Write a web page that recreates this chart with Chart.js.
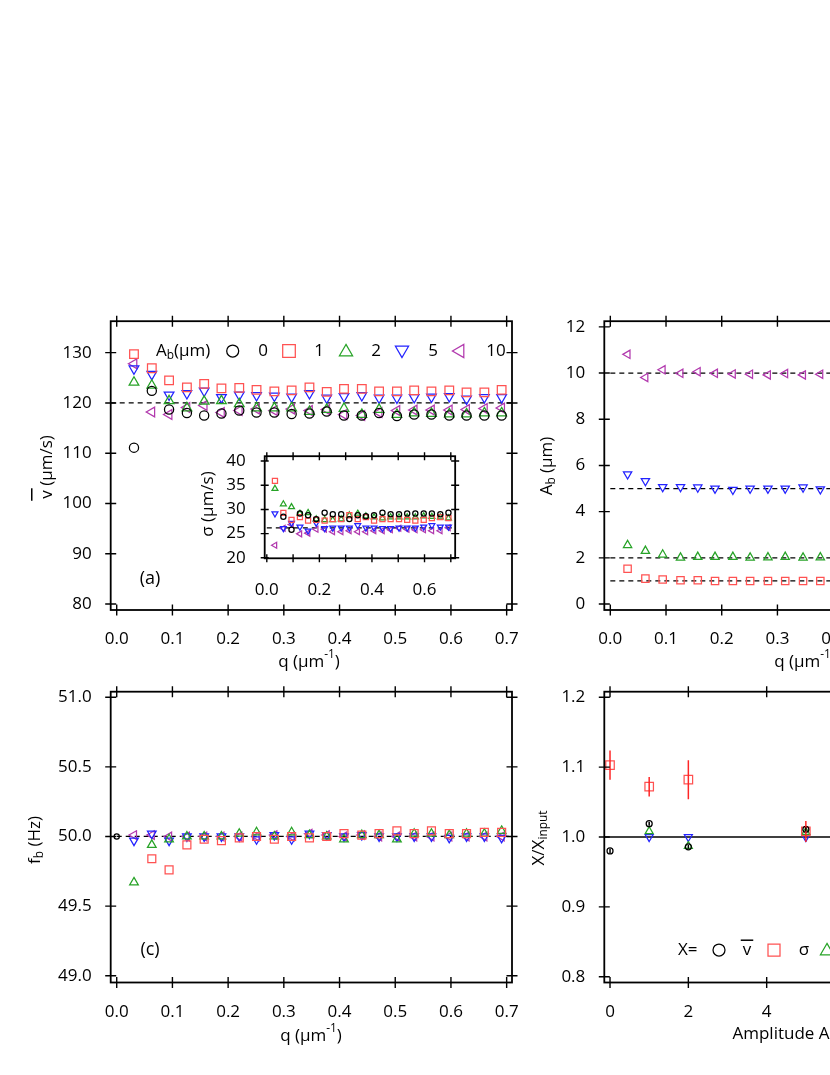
<!DOCTYPE html>
<html lang="en">
<head>
<meta charset="UTF-8">
<title>Fit results versus q and amplitude</title>
<style>
    html, body { margin: 0; padding: 0; background: #fff; overflow: hidden; }
    body { position: relative; width: 830px; height: 1075px; }
    canvas { position: absolute; }
</style>
</head>
<body>
<canvas id="chartA" width="540" height="390" style="left:0px;top:300px"></canvas>
<canvas id="chartB" width="500" height="390" style="left:530px;top:300px"></canvas>
<canvas id="chartC" width="540" height="400" style="left:0px;top:670px"></canvas>
<canvas id="chartD" width="500" height="400" style="left:530px;top:670px"></canvas>
<canvas id="inset" width="275" height="165" style="left:190px;top:435px"></canvas>

<script src="https://cdn.jsdelivr.net/npm/chart.js"></script>
<script>
// ---- data ----
const q = [0.031, 0.063, 0.094, 0.126, 0.157, 0.188, 0.220, 0.251, 0.283, 0.314, 0.346,
           0.377, 0.408, 0.440, 0.471, 0.503, 0.534, 0.565, 0.597, 0.628, 0.660, 0.691];
const amplitudeLabels = ['0', '1', '2', '5', '10'];

// (a) mean velocity, um/s
const vMean0  = [111.1, 122.4, 118.7, 118.0, 117.5, 117.9, 118.5, 118.1, 118.1, 117.8, 117.9, 118.3, 117.5, 117.5, 118.0, 117.4, 117.7, 117.7, 117.5, 117.5, 117.5, 117.5];
const vMean1  = [129.7, 126.9, 124.5, 123.1, 123.8, 122.9, 123.0, 122.6, 122.3, 122.5, 123.1, 122.2, 122.8, 122.8, 122.3, 122.3, 122.5, 122.3, 122.5, 122.1, 122.1, 122.6];
const vMean2  = [124.1, 123.5, 120.4, 119.0, 120.3, 120.4, 119.8, 119.0, 119.0, 119.0, 118.3, 118.7, 118.9, 117.7, 118.7, 117.7, 118.0, 117.9, 117.8, 117.8, 118.0, 118.0];
const vMean5  = [126.8, 125.7, 121.6, 121.9, 122.4, 121.1, 121.6, 121.5, 121.4, 121.2, 121.9, 121.0, 121.3, 121.5, 121.0, 121.0, 121.1, 121.2, 121.3, 120.8, 121.1, 121.1];
const vMean10 = [127.8, 118.2, 117.7, 119.1, 119.5, 118.1, 118.5, 118.8, 118.5, 118.8, 118.5, 118.7, 117.7, 117.5, 118.1, 118.5, 118.6, 118.6, 118.6, 118.7, 118.9, 119.0];
const vInput = 120;

// (a) inset: sigma, um/s
const sigma0  = [null, 28.5, 25.8, 29.15, 28.8, 28.0, 29.3, 29.0, 29.0, 28.0, 28.8, 28.6, 28.8, 29.3, 29.0, 29.0, 29.15, 29.15, 29.15, 29.15, 29.0, 29.3];
const sigma1  = [35.9, 29.3, 27.85, 28.4, 27.7, 27.85, 27.7, 28.0, 28.0, 28.8, 28.0, 28.4, 27.7, 28.0, 28.0, 28.0, 27.85, 27.7, 27.85, 28.2, 28.4, 28.2];
const sigma2  = [34.3, 31.1, 30.5, 29.15, 29.3, 28.0, 27.85, 27.85, 28.0, 28.8, 29.15, 28.6, 28.4, 28.2, 28.4, 28.4, 28.4, 28.4, 28.6, 28.5, 28.4, 28.2];
const sigma5  = [29.15, 26.1, 27.2, 26.4, 25.6, 27.2, 26.1, 26.2, 26.2, 26.2, 26.7, 26.2, 26.2, 26.1, 26.1, 26.2, 26.2, 26.2, 26.4, 26.7, 26.4, 26.4];
const sigma10 = [22.6, 26.1, 26.9, 24.95, 25.1, 25.9, 25.9, 25.4, 25.4, 25.6, 25.4, 25.4, 25.6, 25.6, 25.8, 26.1, 25.9, 25.8, 25.8, 25.6, 25.6, 26.2];
const sigmaInput = 26.2;

// (b) fitted amplitude, um
const amp1  = [1.53, 1.10, 1.06, 1.03, 1.03, 1.00, 1.00, 1.00, 1.00, 1.00, 1.00, 1.00, 1.00, 0.99, 1.00, 1.00, 1.01, 1.00, 1.00, 1.00, 1.00, 1.00];
const amp2  = [2.55, 2.30, 2.14, 2.01, 2.04, 2.04, 2.04, 2.01, 2.02, 2.04, 2.01, 2.02, 2.02, 2.01, 2.00, 2.02, 2.01, 2.00, 2.01, 2.02, 2.00, 2.01];
const amp5  = [5.62, 5.33, 5.07, 5.07, 5.05, 5.00, 4.95, 5.00, 5.00, 5.00, 5.05, 4.97, 5.00, 5.01, 4.98, 5.00, 5.02, 4.99, 5.00, 5.01, 4.99, 5.00];
const amp10 = [10.81, 9.81, 10.14, 9.99, 10.06, 9.99, 9.96, 9.95, 9.92, 9.98, 9.92, 9.95, 9.97, 10.00, 9.96, 9.98, 10.01, 9.97, 9.99, 9.98, 9.96, 9.97];
const ampInputs = [1, 2, 5, 10];

// (c) beat frequency, Hz
const fbQ0 = [0];
const fb0  = [50.00];
const fb1  = [null, 49.84, 49.76, 49.94, 49.98, 49.97, 49.99, 50.00, 49.98, 50.00, 49.99, 50.00, 50.02, 50.01, 50.02, 50.04, 50.02, 50.04, 50.02, 50.02, 50.03, 50.03];
const fb2  = [49.67, 49.94, 49.98, 50.00, 50.00, 50.00, 50.02, 50.03, 50.00, 50.03, 50.01, 50.00, 49.98, 50.01, 50.01, 49.98, 50.02, 50.02, 50.01, 50.02, 50.02, 50.04];
const fb5  = [49.97, 50.02, 49.97, 50.00, 50.00, 50.00, 50.00, 49.98, 50.01, 49.98, 50.02, 50.01, 50.00, 50.01, 50.00, 50.00, 50.00, 50.00, 49.99, 50.00, 50.00, 49.99];
const fb10 = [50.01, 50.01, 50.00, 50.00, 50.00, 50.00, 50.00, 50.00, 50.01, 50.00, 50.02, 50.01, 50.00, 50.01, 50.00, 50.00, 50.00, 50.00, 50.00, 50.00, 50.00, 50.00];
const fInput = 50;

// (d) ratio to input versus amplitude
const ampIn         = [0, 1, 2, 5, 10];
const ratioV        = [0.980, 1.019, 0.986, 1.011, 0.990];
const ratioVErr     = [0.003, 0.003, 0.003, 0.003, 0.003];
const ratioSigma    = [1.103, 1.072, 1.082, 1.008, 0.982];
const ratioSigmaErr = [0.021, 0.014, 0.028, 0.015, 0.012];
const ratioAmp      = [null, 1.008, 0.987, 1.007, 0.998];
const ratioFreq     = [null, 1.000, 1.000, 1.000, 1.000];

// ---- styling ----
const BLACK = '#000000', RED = '#ff5252', GREEN = '#27a327', BLUE = '#2323ff', MAGENTA = '#b23aae';
const FONT = "'Open Sans', 'DejaVu Sans', sans-serif";
Chart.defaults.font.family = FONT;
Chart.defaults.font.size = 17;
Chart.defaults.color = '#000';

const styles = {
    circle: { kind: 'circle', rot: 0 },
    square: { kind: 'rect', rot: 0 },
    up:     { kind: 'triangle', rot: 0 },
    down:   { kind: 'triangle', rot: 180 },
    left:   { kind: 'triangle', rot: 270 }
};

function series(xs, ys, style, color, r) {
    return {
        type: 'scatter',
        data: xs.map((x, i) => ({ x: x, y: ys[i] })),
        pointStyle: styles[style].kind,
        pointRotation: styles[style].rot,
        pointRadius: r,
        borderColor: color,
        pointBorderColor: color,
        pointBackgroundColor: 'rgba(0,0,0,0)',
        pointBorderWidth: 1.25,
        showLine: false,
        order: 1
    };
}

function refLine(x0, x1, yv, dashed) {
    return {
        type: 'line',
        data: [{ x: x0, y: yv }, { x: x1, y: yv }],
        borderColor: '#000',
        borderWidth: 1.3,
        borderDash: dashed ? [5, 4] : [],
        pointRadius: 0,
        fill: false,
        order: 5
    };
}

function axis(min, max, step, fmt) {
    return {
        type: 'linear', min: min, max: max,
        ticks: { stepSize: step, includeBounds: false, padding: 11, autoSkip: false, maxRotation: 0,
                 callback: fmt, color: '#000', font: { size: 17 } },
        grid: { display: false },
        border: { display: false }
    };
}
const fix1 = v => v.toFixed(1);
const fix0 = v => String(Math.round(v));

// ---- drawing helpers for frame, titles, legends ----
function drawRich(ctx, parts, cx, cy, size, opt) {
    opt = opt || {};
    ctx.save();
    ctx.translate(cx, cy);
    if (opt.rot) ctx.rotate(-Math.PI / 2);
    const fontOf = p => ((p.sub || p.sup) ? size * 0.7 : size) + 'px ' + FONT;
    let w = 0;
    parts.forEach(p => { ctx.font = fontOf(p); w += ctx.measureText(p.t).width; });
    let xx = opt.align === 'left' ? 0 : -w / 2;
    ctx.fillStyle = '#000';
    ctx.textBaseline = 'middle';
    ctx.textAlign = 'left';
    parts.forEach(p => {
        ctx.font = fontOf(p);
        const dy = p.sub ? size * 0.3 : p.sup ? -size * 0.42 : 0;
        ctx.fillText(p.t, xx, dy);
        const pw = ctx.measureText(p.t).width;
        if (p.bar) ctx.fillRect(xx - 2, -size * p.bar, pw + 4, 1.5);
        xx += pw;
    });
    ctx.restore();
}

function drawMarker(ctx, kind, x, y, r, color) {
    ctx.save();
    ctx.strokeStyle = color;
    ctx.lineWidth = 1.25;
    ctx.beginPath();
    if (kind === 'circle') {
        ctx.arc(x, y, r, 0, Math.PI * 2);
    } else if (kind === 'square') {
        ctx.rect(x - r, y - r, 2 * r, 2 * r);
    } else {
        const rot = { up: 0, down: Math.PI, left: -Math.PI / 2 }[kind];
        for (let k = 0; k < 3; k++) {
            const a = rot + k * 2 * Math.PI / 3;
            const px = x + Math.sin(a) * r, py = y - Math.cos(a) * r;
            if (k) ctx.lineTo(px, py); else ctx.moveTo(px, py);
        }
        ctx.closePath();
    }
    ctx.stroke();
    ctx.restore();
}

const decor = {};

const framePlugin = {
    id: 'frame',
    afterDraw(chart) {
        const cfg = decor[chart.canvas.id];
        const ctx = chart.ctx, a = chart.chartArea;
        const xs = chart.scales.x, ys = chart.scales.y;
        const len = cfg.tick;
        ctx.save();
        ctx.strokeStyle = '#000';
        ctx.lineWidth = 1.8;
        ctx.strokeRect(a.left, a.top, a.right - a.left, a.bottom - a.top);
        ctx.lineWidth = 1.4;
        ctx.beginPath();
        xs.ticks.forEach(t => {
            const px = xs.getPixelForValue(t.value);
            ctx.moveTo(px, a.bottom - len); ctx.lineTo(px, a.bottom + len);
            ctx.moveTo(px, a.top - len); ctx.lineTo(px, a.top + len);
        });
        ys.ticks.forEach(t => {
            const py = ys.getPixelForValue(t.value);
            ctx.moveTo(a.left - len, py); ctx.lineTo(a.left + len, py);
            ctx.moveTo(a.right - len, py); ctx.lineTo(a.right + len, py);
        });
        ctx.stroke();
        ctx.restore();
    }
};

const decorPlugin = {
    id: 'decor',
    afterDatasetsDraw(chart) {
        const cfg = decor[chart.canvas.id];
        const ctx = chart.ctx, a = chart.chartArea;
        const xs = chart.scales.x, ys = chart.scales.y;
        (cfg.errorBars || []).forEach(eb => {
            ctx.save();
            ctx.beginPath();
            ctx.rect(a.left, a.top, a.right - a.left, a.bottom - a.top);
            ctx.clip();
            ctx.strokeStyle = eb.color;
            ctx.lineWidth = 1.5;
            ctx.beginPath();
            eb.xs.forEach((xv, i) => {
                if (eb.ys[i] == null) return;
                const px = xs.getPixelForValue(xv);
                ctx.moveTo(px, ys.getPixelForValue(eb.ys[i] - eb.errs[i]));
                ctx.lineTo(px, ys.getPixelForValue(eb.ys[i] + eb.errs[i]));
            });
            ctx.stroke();
            ctx.restore();
        });
    },
    afterDraw(chart) {
        const cfg = decor[chart.canvas.id];
        const ctx = chart.ctx;
        (cfg.titles || []).forEach(t => drawRich(ctx, t.parts, t.x, t.y, t.size || 17, { rot: t.rot, align: t.align }));
        (cfg.legend || []).forEach(it => {
            if (it.marker) drawMarker(ctx, it.marker, it.x, it.y, it.r, it.color);
            else drawRich(ctx, it.parts, it.x, it.y, 17, { align: it.align });
        });
    }
};

function makeChart(id, geo, xAx, yAx, datasets) {
    const cv = document.getElementById(id);
    xAx.afterFit = s => { s.height = cv.height - geo.bottom; };
    yAx.afterFit = s => { s.width = geo.left; };
    return new Chart(cv, {
        type: 'scatter',
        data: { datasets: datasets },
        options: {
            responsive: false,
            animation: false,
            events: [],
            layout: { padding: { left: 0, top: geo.top, right: cv.width - geo.right, bottom: 0 } },
            scales: { x: xAx, y: yAx },
            plugins: { legend: { display: false }, tooltip: { enabled: false } }
        },
        plugins: [framePlugin, decorPlugin]
    });
}

const qTitle = [{ t: 'q (µm' }, { t: '-1', sup: 1 }, { t: ')' }];
const qMin = -0.0108, qMax = 0.7096;

// ---- (a) mean velocity ----
const legendY = 51;
decor.chartA = {
    tick: 5.5,
    titles: [
        { parts: [{ t: 'v', bar: 0.97 }, { t: ' (µm/s)' }], x: 47.5, y: 167, rot: true },
        { parts: qTitle, x: 309, y: 362 },
        { parts: [{ t: '(a)' }], x: 150, y: 279, size: 18 }
    ],
    legend: [
        { parts: [{ t: 'A' }, { t: 'b', sub: 1 }, { t: '(µm)' }], x: 156, y: legendY, align: 'left' },
        { marker: 'circle', x: 232.7, y: legendY, r: 6, color: BLACK },
        { parts: [{ t: amplitudeLabels[0] }], x: 263, y: legendY },
        { marker: 'square', x: 289, y: legendY, r: 6.3, color: RED },
        { parts: [{ t: amplitudeLabels[1] }], x: 319, y: legendY },
        { marker: 'up', x: 346, y: legendY + 1, r: 7.6, color: GREEN },
        { parts: [{ t: amplitudeLabels[2] }], x: 376, y: legendY },
        { marker: 'down', x: 402, y: legendY - 1, r: 7.6, color: BLUE },
        { parts: [{ t: amplitudeLabels[3] }], x: 433, y: legendY },
        { marker: 'left', x: 460, y: legendY, r: 7.6, color: MAGENTA },
        { parts: [{ t: amplitudeLabels[4] }], x: 496, y: legendY }
    ]
};
makeChart('chartA', { left: 110.7, top: 19.3, right: 512, bottom: 310 },
    axis(qMin, qMax, 0.1, fix1), axis(78.81, 136.26, 10, fix0), [
        refLine(qMin, qMax, vInput, true),
        series(q, vMean0, 'circle', BLACK, 4.6),
        series(q, vMean1, 'square', RED, 6.1),
        series(q, vMean2, 'up', GREEN, 5.6),
        series(q, vMean5, 'down', BLUE, 5.6),
        series(q, vMean10, 'left', MAGENTA, 5.6)
    ]);

// ---- (a) inset: sigma ----
decor.inset = {
    tick: 4,
    titles: [{ parts: [{ t: 'σ (µm/s)' }], x: 18, y: 69, rot: true }]
};
const insetX = axis(-0.008, 0.7166, 0.1, v => (Math.round(v * 10) % 2 === 0 ? v.toFixed(1) : ''));
insetX.ticks.padding = 14;
makeChart('inset', { left: 74.7, top: 15, right: 266.7, bottom: 123.3 },
    insetX, axis(19.9, 41.0, 5, fix0), [
        refLine(0, 0.7166, sigmaInput, true),
        series(q, sigma0, 'circle', BLACK, 2.6),
        series(q, sigma1, 'square', RED, 3.6),
        series(q, sigma2, 'up', GREEN, 3.4),
        series(q, sigma5, 'down', BLUE, 3.4),
        series(q, sigma10, 'left', MAGENTA, 3.4)
    ]);

// ---- (b) amplitude ----
decor.chartB = {
    tick: 5.5,
    titles: [
        { parts: [{ t: 'A' }, { t: 'b', sub: 1 }, { t: ' (µm)' }], x: 17, y: 166, rot: true },
        { parts: qTitle, x: 275, y: 362 }
    ]
};
makeChart('chartB', { left: 74.3, top: 19.3, right: 475.6, bottom: 310 },
    axis(qMin, qMax, 0.1, fix1), axis(-0.258, 12.245, 2, fix0), [
        refLine(0, qMax, ampInputs[0], true),
        refLine(0, qMax, ampInputs[1], true),
        refLine(0, qMax, ampInputs[2], true),
        refLine(0, qMax, ampInputs[3], true),
        series(q, amp1, 'square', RED, 5.2),
        series(q, amp2, 'up', GREEN, 4.8),
        series(q, amp5, 'down', BLUE, 4.8),
        series(q, amp10, 'left', MAGENTA, 4.8)
    ]);

// ---- (c) beat frequency ----
decor.chartC = {
    tick: 5.5,
    titles: [
        { parts: [{ t: 'f' }, { t: 'b', sub: 1 }, { t: ' (Hz)' }], x: 35, y: 170, rot: true },
        { parts: qTitle, x: 311, y: 366 },
        { parts: [{ t: '(c)' }], x: 150, y: 280, size: 18 }
    ]
};
makeChart('chartC', { left: 110.7, top: 21.7, right: 512, bottom: 312.5 },
    axis(qMin, qMax, 0.1, fix1), axis(48.951, 51.04, 0.5, fix1), [
        refLine(0, qMax, fInput, true),
        series(fbQ0, fb0, 'circle', BLACK, 2.6),
        series(q, fb1, 'square', RED, 5.6),
        series(q, fb2, 'up', GREEN, 5),
        series(q, fb5, 'down', BLUE, 5),
        series(q, fb10, 'left', MAGENTA, 5)
    ]);

// ---- (d) ratio to input ----
const legD = 280;
decor.chartD = {
    tick: 5.5,
    titles: [
        { parts: [{ t: 'X/X' }, { t: 'input', sub: 1 }], x: 9, y: 168, rot: true },
        { parts: [{ t: 'Amplitude A' }, { t: 'b', sub: 1 }, { t: ' (µm)' }], x: 275, y: 364 }
    ],
    legend: [
        { parts: [{ t: 'X=' }], x: 148, y: legD, align: 'left' },
        { marker: 'circle', x: 189, y: legD, r: 6, color: BLACK },
        { parts: [{ t: 'v', bar: 0.62 }], x: 217, y: legD },
        { marker: 'square', x: 244, y: legD, r: 6, color: RED },
        { parts: [{ t: 'σ' }], x: 274, y: legD },
        { marker: 'up', x: 297, y: legD + 1, r: 7.6, color: GREEN },
        { parts: [{ t: 'A' }, { t: 'b', sub: 1 }], x: 329, y: legD },
        { marker: 'down', x: 360, y: legD - 1, r: 7.6, color: BLUE },
        { parts: [{ t: 'f' }, { t: 'b', sub: 1 }], x: 389, y: legD }
    ],
    errorBars: [
        { xs: ampIn, ys: ratioSigma, errs: ratioSigmaErr, color: '#ff2626' },
        { xs: ampIn, ys: ratioV, errs: ratioVErr, color: BLACK }
    ]
};
makeChart('chartD', { left: 74.3, top: 21.7, right: 475.6, bottom: 312.5 },
    axis(-0.146, 10.1, 2, fix0), axis(0.7917, 1.208, 0.1, fix1), [
        refLine(-0.146, 10.1, 1, false),
        series(ampIn, ratioV, 'circle', BLACK, 3),
        series(ampIn, ratioSigma, 'square', RED, 6),
        series(ampIn, ratioAmp, 'up', GREEN, 4.6),
        series(ampIn, ratioFreq, 'down', BLUE, 4.6)
    ]);
</script>
</body>
</html>
